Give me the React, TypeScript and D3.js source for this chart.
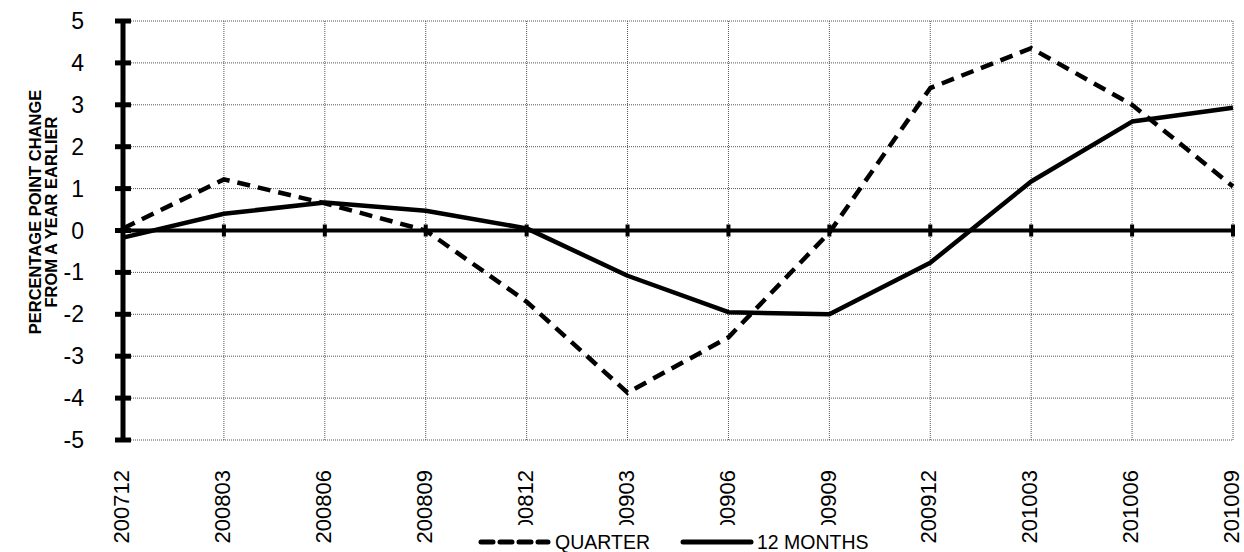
import React from "react";
import * as d3 from "d3";

const categories = ["200712", "200803", "200806", "200809", "200812", "200903", "200906", "200909", "200912", "201003", "201006", "201009"];
const quarterValues = [0.05, 1.22, 0.65, 0.0, -1.7, -3.87, -2.55, -0.05, 3.4, 4.35, 3.0, 1.05];
const twelveMonthValues = [-0.17, 0.4, 0.67, 0.47, 0.05, -1.08, -1.95, -2.0, -0.77, 1.17, 2.6, 2.93];
const yTicks = [5, 4, 3, 2, 1, 0, -1, -2, -3, -4, -5];
const seriesNames = ["QUARTER", "12 MONTHS"];
const yTitleLines = ["PERCENTAGE POINT CHANGE", "FROM A YEAR EARLIER"];

const W = 1244;
const H = 552;
const left = 123;
const right = 1233;
const top = 21;
const bottom = 440;
const FONT = "'Liberation Sans', Arial, sans-serif";

export default function App() {
  const x = d3.scalePoint<string>().domain(categories).range([left, right]);
  const y = d3.scaleLinear().domain([-5, 5]).range([bottom, top]);
  const line = d3
    .line<number>()
    .x((_, i) => x(categories[i]) as number)
    .y((d) => y(d));

  return (
    <svg width={W} height={H} style={{ position: "absolute", left: 0, top: 0, background: "#fff" }} fontFamily={FONT}>
      <rect x={0} y={0} width={W} height={H} fill="#fff" />
      {/* horizontal gridlines */}
      {yTicks.map((t) => (
        <line key={"hg" + t} x1={left} x2={right} y1={y(t)} y2={y(t)} stroke="#555" strokeWidth={1} strokeDasharray="1,1" />
      ))}
      {/* vertical gridlines */}
      {categories.map((c) => (
        <line key={"vg" + c} x1={x(c)} x2={x(c)} y1={top} y2={bottom} stroke="#555" strokeWidth={1} strokeDasharray="1,1" />
      ))}
      {/* zero line */}
      <line x1={left} x2={right} y1={y(0)} y2={y(0)} stroke="#000" strokeWidth={4} />
      {categories.map((c) => (
        <line key={"zt" + c} x1={x(c)} x2={x(c)} y1={y(0) - 6} y2={y(0) + 6} stroke="#000" strokeWidth={4} />
      ))}
      {/* y axis */}
      <line x1={left} x2={left} y1={top - 2} y2={bottom + 2} stroke="#000" strokeWidth={5} />
      {yTicks.map((t) => (
        <line key={"yt" + t} x1={left - 8} x2={left + 8} y1={y(t)} y2={y(t)} stroke="#000" strokeWidth={5} />
      ))}
      {yTicks.map((t) => (
        <text key={"yl" + t} x={84} y={y(t)} dy="0.35em" textAnchor="end" fontSize={23} fill="#000">
          {t}
        </text>
      ))}
      {/* y title */}
      <g transform={`translate(41, 212) rotate(-90)`}>
        {yTitleLines.map((s, i) => (
          <text key={s} x={0} y={i * 16} textAnchor="middle" fontSize={16.5} fontWeight="bold" fill="#000">
            {s}
          </text>
        ))}
      </g>
      {/* series */}
      <path d={line(twelveMonthValues) || ""} fill="none" stroke="#000" strokeWidth={4.5} strokeLinejoin="round" />
      <path d={line(quarterValues) || ""} fill="none" stroke="#000" strokeWidth={4.5} strokeDasharray="13,8" />
      {/* x labels */}
      {categories.map((c) => (
        <text key={"xl" + c} transform={`translate(${x(c)}, 470) rotate(-90)`} dy="0.28em" textAnchor="end" fontSize={22} fill="#000">
          {c}
        </text>
      ))}
      {/* legend */}
      <rect x={447} y={525} width={450} height={27} fill="#fff" />
      <line x1={481} x2={548} y1={542} y2={542} stroke="#000" strokeWidth={5} strokeDasharray="12,7" strokeLinecap="round" />
      <text x={555} y={542} dy="0.35em" fontSize={19.5} fill="#000">{seriesNames[0]}</text>
      <line x1={683} x2={751} y1={542} y2={542} stroke="#000" strokeWidth={5} strokeLinecap="round" />
      <text x={757} y={542} dy="0.35em" fontSize={19.5} fill="#000">{seriesNames[1]}</text>
    </svg>
  );
}
